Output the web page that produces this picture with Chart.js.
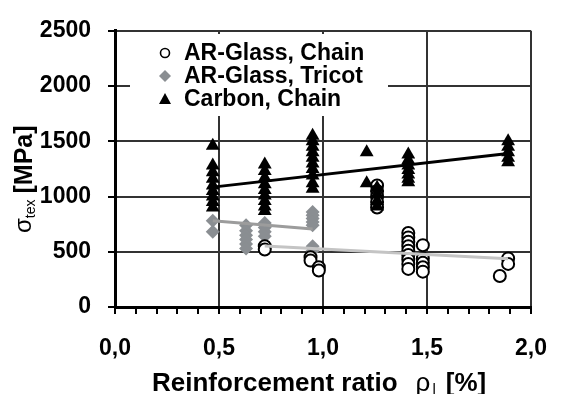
<!DOCTYPE html>
<html>
<head>
<meta charset="utf-8">
<script src="https://cdn.jsdelivr.net/npm/chart.js@4.4.1/dist/chart.umd.min.js"></script>
<style>
  html, body { margin: 0; padding: 0; background: #fff; }
  #wrap { width: 568px; height: 394px; }
</style>
</head>
<body>
<div id="wrap"><canvas id="chart" width="568" height="394"></canvas></div>
<script>
// 図から読み取った測定値
var glassChainX = [0.72, 0.72, 0.94, 0.94, 0.98, 0.98,
  1.26, 1.26, 1.26, 1.26, 1.26,
  1.41, 1.41, 1.41, 1.41, 1.41, 1.41, 1.41, 1.41, 1.41,
  1.48, 1.48, 1.48, 1.48, 1.48, 1.85, 1.89, 1.89];
var glassChainY = [550, 520, 450, 420, 360, 330,
  1100, 1050, 1000, 950, 900,
  670, 630, 590, 550, 510, 470, 430, 390, 345,
  560, 440, 400, 360, 320, 280, 440, 390];

var glassTricotX = [0.47, 0.47,
  0.63, 0.63, 0.63, 0.63, 0.63, 0.63,
  0.72, 0.72, 0.72, 0.72,
  0.95, 0.95, 0.95, 0.95, 0.95, 0.95, 0.95];
var glassTricotY = [780, 680,
  740, 690, 650, 610, 570, 530,
  760, 720, 680, 640,
  860, 830, 800, 770, 740, 550, 510];

var carbonChainX = [0.47, 0.47, 0.47, 0.47, 0.47, 0.47, 0.47, 0.47, 0.47,
  0.72, 0.72, 0.72, 0.72, 0.72, 0.72, 0.72, 0.72, 0.72,
  0.95, 0.95, 0.95, 0.95, 0.95, 0.95, 0.95, 0.95, 0.95, 0.95,
  1.21, 1.21, 1.26, 1.26, 1.26, 1.26,
  1.41, 1.41, 1.41, 1.41, 1.41, 1.41, 1.41,
  1.89, 1.89, 1.89, 1.89, 1.89];
var carbonChainY = [1460, 1280, 1220, 1160, 1100, 1050, 1000, 950, 900,
  1290, 1230, 1170, 1110, 1060, 1010, 960, 910, 870,
  1550, 1500, 1450, 1400, 1350, 1300, 1250, 1190, 1120, 1070,
  1400, 1120, 1080, 1020, 960, 910,
  1380, 1330, 1280, 1240, 1200, 1160, 1130,
  1500, 1450, 1400, 1350, 1310];

// 近似直線（両端）
var carbonTrendX = [0.47, 1.89];
var carbonTrendY = [1085, 1390];
var tricotTrendX = [0.47, 0.95];
var tricotTrendY = [780, 705];
var glassTrendX = [0.72, 1.89];
var glassTrendY = [553, 436];

var seriesLabels = ['AR-Glass, Chain', 'AR-Glass, Tricot', 'Carbon, Chain'];

var FONT = '"Liberation Sans", Arial, sans-serif';
var GRID = '#333333';
var TRICOT_GRAY = '#8a8e92';

function toPoints(xs, ys) {
  return xs.map(function(x, i) { return { x: x, y: ys[i] }; });
}

function isMajorX(v) {
  return Math.abs(Math.round(v * 10) % 5) === 0;
}

// 凡例と軸タイトル（添字付き）を描くプラグイン
var overlayPlugin = {
  id: 'overlay',
  afterDraw: function(chart) {
    var ctx = chart.ctx;
    ctx.save();

    // 凡例ボックス
    ctx.fillStyle = '#fff';
    ctx.fillRect(130, 34, 258, 82);

    var rows = [53, 76, 99];
    var mx = 165;
    // ○
    ctx.beginPath();
    ctx.arc(mx, rows[0], 4.5, 0, Math.PI * 2);
    ctx.fillStyle = '#fff';
    ctx.fill();
    ctx.lineWidth = 1.6;
    ctx.strokeStyle = '#000';
    ctx.stroke();
    // ◆
    ctx.beginPath();
    ctx.moveTo(mx - 6, rows[1]);
    ctx.lineTo(mx, rows[1] - 6);
    ctx.lineTo(mx + 6, rows[1]);
    ctx.lineTo(mx, rows[1] + 6);
    ctx.closePath();
    ctx.fillStyle = TRICOT_GRAY;
    ctx.fill();
    // ▲
    ctx.beginPath();
    ctx.moveTo(mx, rows[2] - 6);
    ctx.lineTo(mx + 6, rows[2] + 5);
    ctx.lineTo(mx - 6, rows[2] + 5);
    ctx.closePath();
    ctx.fillStyle = '#000';
    ctx.fill();

    ctx.fillStyle = '#000';
    ctx.font = 'bold 23px ' + FONT;
    ctx.textBaseline = 'middle';
    ctx.textAlign = 'left';
    seriesLabels.forEach(function(label, i) {
      ctx.fillText(label, 184, rows[i] + 1);
    });

    // x軸タイトル
    ctx.textBaseline = 'alphabetic';
    var x = 152, y = 391;
    ctx.font = 'bold 26px ' + FONT;
    ctx.fillText('Reinforcement ratio', x, y);
    x += ctx.measureText('Reinforcement ratio').width + 18;
    ctx.font = '26px ' + FONT;
    ctx.fillText('ρ', x, y);
    x += ctx.measureText('ρ').width + 2;
    ctx.font = '15px ' + FONT;
    ctx.fillText('l', x, y + 3);
    x += ctx.measureText('l').width + 10;
    ctx.font = 'bold 26px ' + FONT;
    ctx.fillText('[%]', x, y);

    // y軸タイトル
    ctx.translate(32, 233);
    ctx.rotate(-Math.PI / 2);
    var t = 0;
    ctx.font = '24px ' + FONT;
    ctx.fillText('σ', t, -1);
    t += ctx.measureText('σ').width;
    ctx.font = '14px ' + FONT;
    ctx.fillText('tex', t, 3);
    t += ctx.measureText('tex').width + 6;
    ctx.font = 'bold 25px ' + FONT;
    ctx.fillText('[MPa]', t, 0);

    ctx.restore();
  }
};

Chart.defaults.font.family = FONT;

var ctx = document.getElementById('chart').getContext('2d');
var chart = new Chart(ctx, {
  type: 'scatter',
  data: {
    datasets: [
      {
        label: 'Carbon trend',
        data: toPoints(carbonTrendX, carbonTrendY),
        showLine: true,
        borderColor: '#000',
        borderWidth: 3,
        pointRadius: 0,
        order: 0
      },
      {
        label: 'Tricot trend',
        data: toPoints(tricotTrendX, tricotTrendY),
        showLine: true,
        borderColor: '#9c9c9c',
        borderWidth: 3,
        pointRadius: 0,
        order: 0
      },
      {
        label: 'Glass trend',
        data: toPoints(glassTrendX, glassTrendY),
        showLine: true,
        borderColor: '#c4c4c4',
        borderWidth: 3,
        pointRadius: 0,
        order: 0
      },
      {
        label: seriesLabels[2],
        data: toPoints(carbonChainX, carbonChainY),
        pointStyle: 'triangle',
        pointRadius: 8,
        backgroundColor: '#000',
        borderColor: '#000',
        borderWidth: 0,
        order: 1
      },
      {
        label: seriesLabels[0],
        data: toPoints(glassChainX, glassChainY),
        pointStyle: 'circle',
        pointRadius: 6,
        backgroundColor: '#fff',
        borderColor: '#000',
        borderWidth: 2,
        order: 2
      },
      {
        label: seriesLabels[1],
        data: toPoints(glassTricotX, glassTricotY),
        pointStyle: 'rectRot',
        pointRadius: 7,
        backgroundColor: TRICOT_GRAY,
        borderColor: TRICOT_GRAY,
        borderWidth: 0,
        order: 3
      }
    ]
  },
  options: {
    responsive: false,
    animation: false,
    devicePixelRatio: 1,
    layout: { padding: { left: 40, right: 20, top: 22, bottom: 32 } },
    plugins: {
      legend: { display: false },
      tooltip: { enabled: false }
    },
    scales: {
      x: {
        type: 'linear',
        min: 0,
        max: 2,
        afterFit: function(s) { s.height = 55; },
        ticks: {
          stepSize: 0.1,
          autoSkip: false,
          maxRotation: 0,
          padding: 21,
          color: '#000',
          font: { size: 23, weight: 'bold' },
          callback: function(v) {
            return isMajorX(v) ? v.toFixed(1).replace('.', ',') : '';
          }
        },
        grid: {
          color: function(c) {
            return (c.tick && isMajorX(c.tick.value)) ? GRID : 'rgba(0,0,0,0)';
          },
          lineWidth: 2,
          tickColor: '#000',
          tickLength: 7,
          tickWidth: 2
        },
        border: { display: true, color: '#000', width: 3 }
      },
      y: {
        min: 0,
        max: 2500,
        afterFit: function(s) { s.width = 75; },
        ticks: {
          stepSize: 500,
          padding: 17,
          color: '#000',
          font: { size: 23, weight: 'bold' },
          callback: function(v) { return String(v); }
        },
        grid: {
          color: GRID,
          lineWidth: 2,
          tickColor: '#000',
          tickLength: 7,
          tickWidth: 2
        },
        border: { display: true, color: '#000', width: 3 }
      }
    }
  },
  plugins: [overlayPlugin]
});
</script>
</body>
</html>
